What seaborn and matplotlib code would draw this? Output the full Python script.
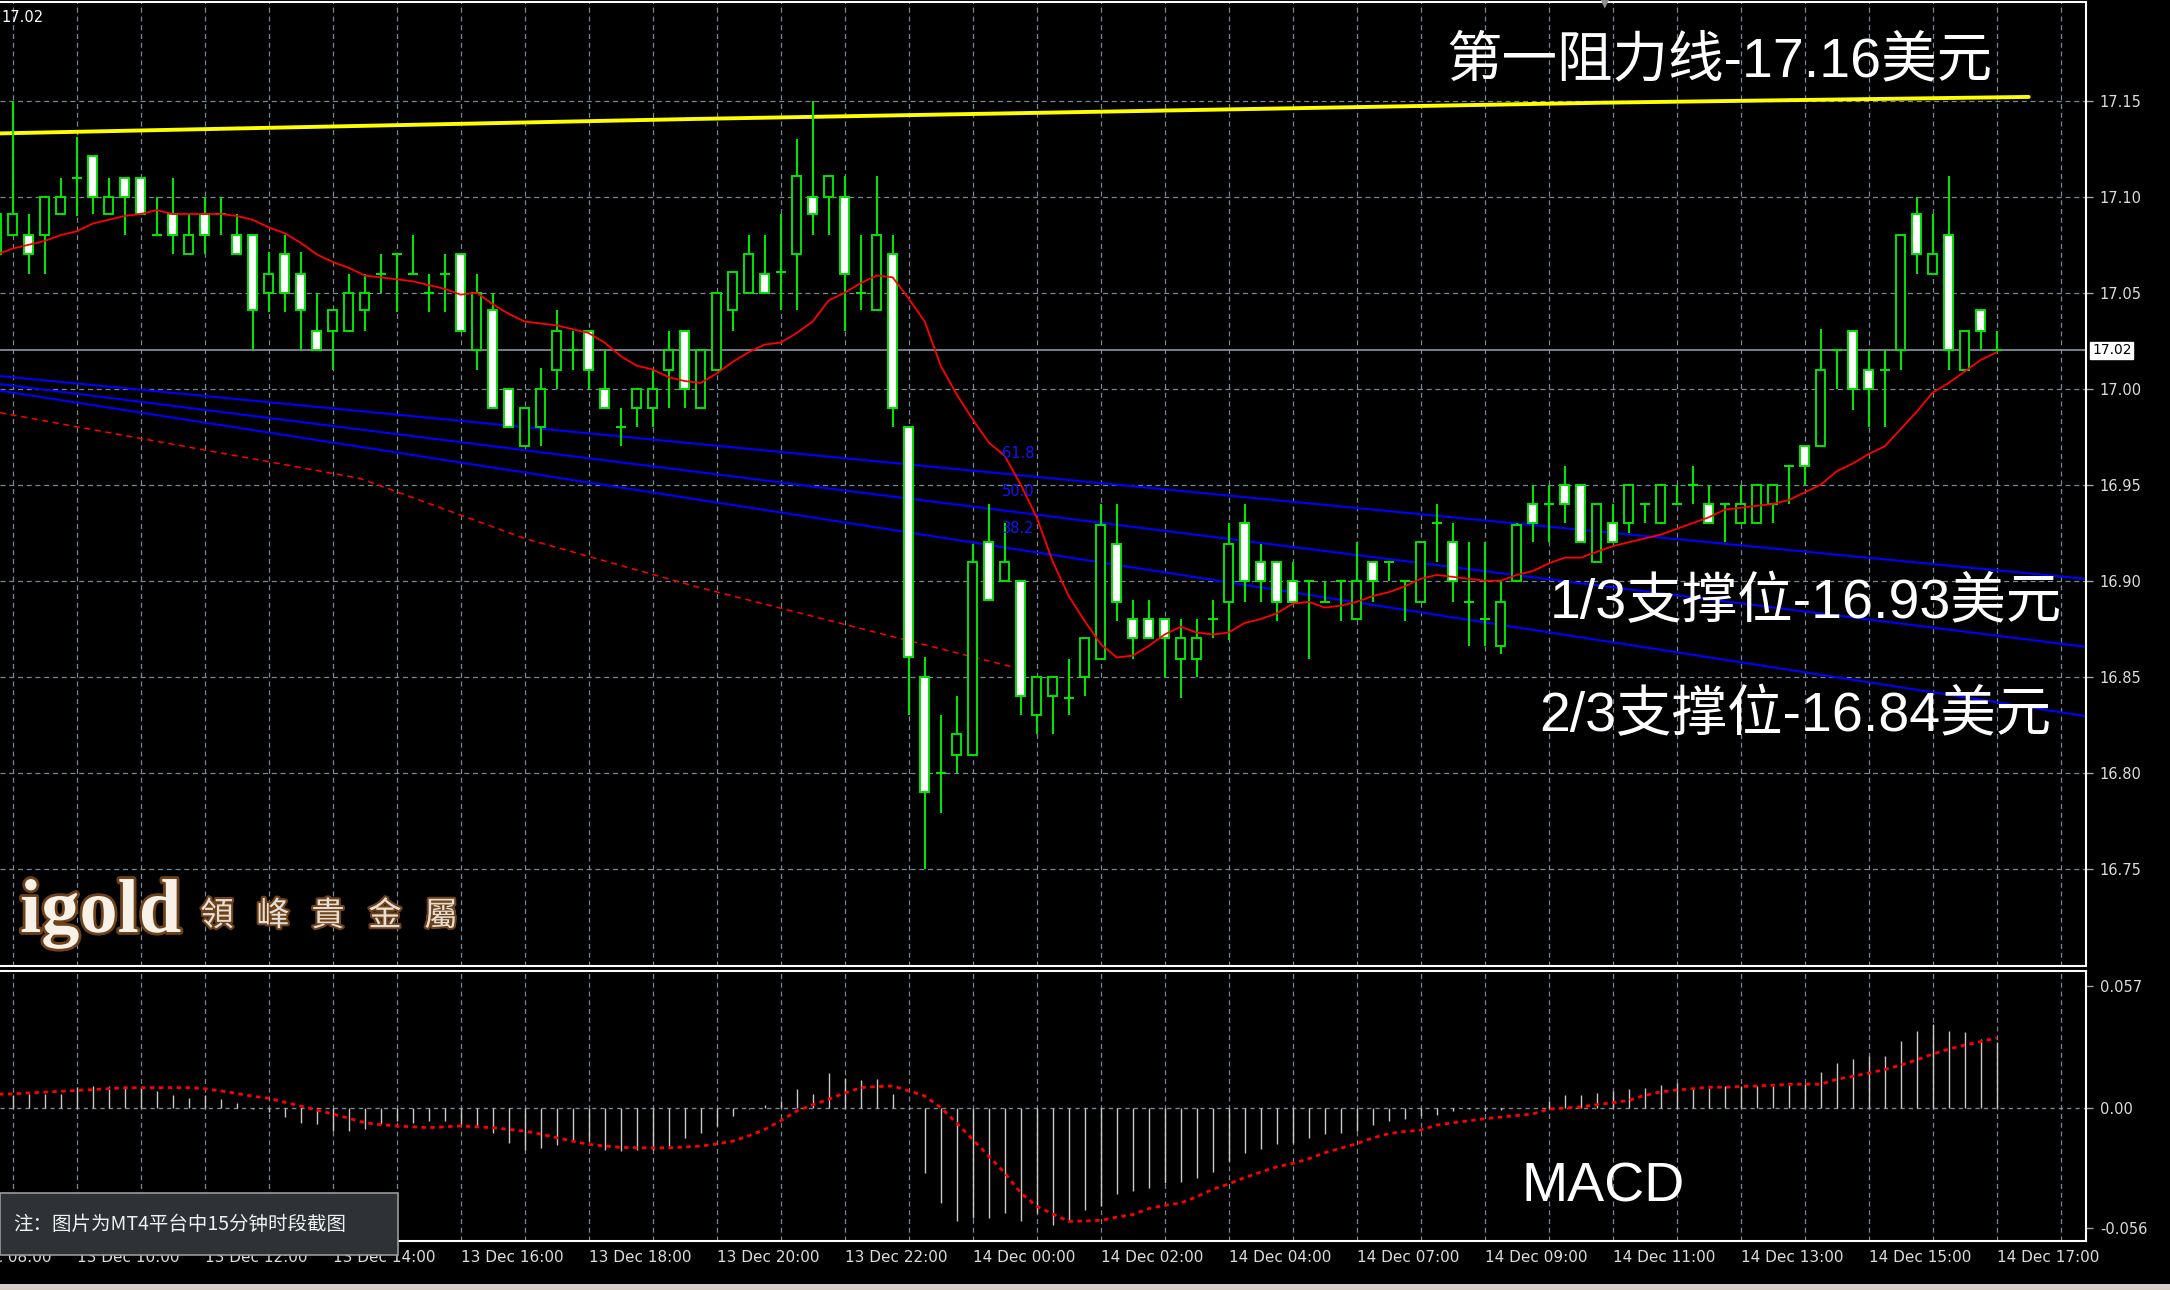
import matplotlib
matplotlib.use("Agg")
import matplotlib.pyplot as plt
import matplotlib.patheffects as pe
import matplotlib.transforms as mtransforms
from matplotlib.patches import Rectangle
import numpy as np
import pandas as pd
import seaborn as sns

# screenshot size in pixels
W, H = 2170, 1290

# 15 minute bars, index 0 = 13 Dec 09:00 (index -1 is cut at the left edge)
bar_index = list(range(-1, 125))

opens = [17.070, 17.080, 17.080, 17.080, 17.091, 17.110, 17.121, 17.091, 17.110, 17.110,
         17.080, 17.091, 17.070, 17.091, 17.091, 17.080, 17.080, 17.050, 17.070, 17.060,
         17.030, 17.030, 17.030, 17.041, 17.060, 17.070, 17.060, 17.050, 17.060, 17.070,
         17.020, 17.041, 17.000, 16.970, 16.980, 17.010, 17.020, 17.030, 17.000, 16.980,
         16.990, 16.990, 17.010, 17.030, 16.990, 17.010, 17.041, 17.050, 17.060, 17.061,
         17.070, 17.100, 17.100, 17.100, 17.050, 17.041, 17.070, 16.980, 16.850, 16.800,
         16.809, 16.809, 16.920, 16.900, 16.900, 16.830, 16.840, 16.839, 16.850, 16.859,
         16.919, 16.880, 16.880, 16.880, 16.859, 16.859, 16.880, 16.889, 16.930, 16.910,
         16.910, 16.900, 16.900, 16.889, 16.900, 16.880, 16.910, 16.910, 16.900, 16.889,
         16.930, 16.920, 16.889, 16.880, 16.866, 16.900, 16.940, 16.940, 16.950, 16.950,
         16.910, 16.930, 16.930, 16.940, 16.930, 16.940, 16.950, 16.940, 16.940, 16.930,
         16.930, 16.940, 16.960, 16.970, 16.970, 17.020, 17.030, 17.010, 17.010, 17.020,
         17.091, 17.060, 17.080, 17.010, 17.041, 17.020]

highs = [17.091, 17.150, 17.091, 17.100, 17.110, 17.131, 17.121, 17.110, 17.110, 17.110,
         17.100, 17.110, 17.091, 17.100, 17.100, 17.091, 17.080, 17.071, 17.080, 17.071,
         17.050, 17.041, 17.060, 17.060, 17.070, 17.070, 17.080, 17.060, 17.070, 17.070,
         17.060, 17.050, 17.000, 16.990, 17.011, 17.041, 17.030, 17.030, 17.020, 16.990,
         17.000, 17.010, 17.030, 17.030, 17.020, 17.050, 17.061, 17.080, 17.080, 17.091,
         17.130, 17.150, 17.111, 17.111, 17.080, 17.111, 17.080, 16.980, 16.860, 16.830,
         16.840, 16.919, 16.940, 16.930, 16.900, 16.850, 16.850, 16.859, 16.870, 16.940,
         16.940, 16.890, 16.890, 16.880, 16.880, 16.880, 16.890, 16.930, 16.940, 16.919,
         16.910, 16.910, 16.900, 16.900, 16.900, 16.920, 16.910, 16.910, 16.900, 16.920,
         16.940, 16.930, 16.920, 16.920, 16.900, 16.930, 16.950, 16.950, 16.960, 16.950,
         16.940, 16.940, 16.950, 16.940, 16.950, 16.950, 16.960, 16.950, 16.940, 16.950,
         16.950, 16.950, 16.960, 16.970, 17.031, 17.020, 17.030, 17.020, 17.020, 17.080,
         17.100, 17.091, 17.111, 17.030, 17.041, 17.030]

lows = [17.070, 17.080, 17.060, 17.060, 17.091, 17.090, 17.091, 17.091, 17.080, 17.091,
        17.080, 17.070, 17.070, 17.070, 17.080, 17.070, 17.020, 17.040, 17.040, 17.020,
        17.020, 17.010, 17.030, 17.030, 17.050, 17.040, 17.060, 17.040, 17.040, 17.030,
        17.010, 16.990, 16.980, 16.970, 16.970, 17.000, 17.010, 17.000, 16.990, 16.970,
        16.980, 16.980, 16.990, 16.990, 16.990, 17.010, 17.030, 17.050, 17.050, 17.041,
        17.041, 17.080, 17.080, 17.030, 17.041, 17.041, 16.980, 16.830, 16.750, 16.779,
        16.800, 16.809, 16.890, 16.900, 16.830, 16.820, 16.820, 16.830, 16.840, 16.859,
        16.879, 16.859, 16.870, 16.850, 16.839, 16.850, 16.870, 16.869, 16.889, 16.889,
        16.879, 16.889, 16.859, 16.889, 16.879, 16.880, 16.889, 16.900, 16.879, 16.889,
        16.910, 16.889, 16.866, 16.866, 16.862, 16.900, 16.920, 16.920, 16.930, 16.920,
        16.910, 16.920, 16.925, 16.930, 16.930, 16.940, 16.940, 16.930, 16.920, 16.930,
        16.930, 16.930, 16.940, 16.950, 16.970, 17.000, 16.989, 16.980, 16.980, 17.010,
        17.060, 17.060, 17.010, 17.010, 17.020, 17.020]

closes = [17.091, 17.091, 17.070, 17.100, 17.100, 17.110, 17.100, 17.100, 17.100, 17.091,
          17.080, 17.080, 17.080, 17.080, 17.091, 17.070, 17.041, 17.060, 17.050, 17.041,
          17.020, 17.041, 17.050, 17.050, 17.060, 17.070, 17.060, 17.050, 17.060, 17.030,
          17.050, 16.990, 16.980, 16.990, 17.000, 17.030, 17.020, 17.010, 16.990, 16.980,
          17.000, 17.000, 17.020, 17.000, 17.020, 17.050, 17.061, 17.070, 17.050, 17.061,
          17.111, 17.091, 17.111, 17.060, 17.050, 17.080, 16.990, 16.860, 16.790, 16.800,
          16.820, 16.910, 16.890, 16.910, 16.840, 16.850, 16.850, 16.839, 16.870, 16.929,
          16.889, 16.870, 16.870, 16.870, 16.870, 16.870, 16.880, 16.919, 16.900, 16.900,
          16.889, 16.889, 16.900, 16.889, 16.900, 16.900, 16.900, 16.910, 16.900, 16.920,
          16.930, 16.900, 16.889, 16.880, 16.889, 16.929, 16.930, 16.940, 16.940, 16.920,
          16.940, 16.920, 16.950, 16.940, 16.950, 16.940, 16.950, 16.930, 16.940, 16.940,
          16.950, 16.950, 16.960, 16.960, 17.010, 17.020, 17.000, 17.000, 17.010, 17.080,
          17.070, 17.070, 17.020, 17.030, 17.030, 17.020]

# red moving average
ma_line = [17.070, 17.073, 17.075, 17.077, 17.080, 17.082, 17.086, 17.088, 17.090, 17.091,
           17.093, 17.091, 17.091, 17.091, 17.091, 17.090, 17.088, 17.084, 17.081, 17.076,
           17.070, 17.066, 17.063, 17.059, 17.058, 17.057, 17.056, 17.054, 17.052, 17.049,
           17.050, 17.044, 17.039, 17.035, 17.034, 17.033, 17.031, 17.029, 17.024, 17.017,
           17.012, 17.010, 17.006, 17.004, 17.003, 17.008, 17.014, 17.019, 17.023, 17.024,
           17.029, 17.035, 17.046, 17.050, 17.055, 17.059, 17.058, 17.047, 17.035, 17.012,
           16.997, 16.984, 16.972, 16.965, 16.950, 16.933, 16.910, 16.892, 16.879, 16.867,
           16.860, 16.861, 16.866, 16.872, 16.876, 16.873, 16.872, 16.873, 16.878, 16.880,
           16.883, 16.888, 16.889, 16.886, 16.887, 16.889, 16.892, 16.894, 16.897, 16.901,
           16.903, 16.902, 16.901, 16.900, 16.900, 16.903, 16.905, 16.909, 16.912, 16.912,
           16.915, 16.918, 16.920, 16.922, 16.924, 16.927, 16.930, 16.933, 16.937, 16.938,
           16.939, 16.940, 16.942, 16.946, 16.950, 16.957, 16.961, 16.966, 16.970, 16.979,
           16.988, 16.998, 17.003, 17.009, 17.015, 17.019]

macd_hist = [0.0059, 0.0059, 0.0064, 0.0064, 0.0064, 0.0100, 0.0103, 0.0103, 0.0103, 0.0100,
             0.0080, 0.0059, 0.0048, 0.0060, 0.0041, 0.0022, -0.0006, -0.0019, -0.0041, -0.0072,
             -0.0077, -0.0108, -0.0108, -0.0100, -0.0077, -0.0061, -0.0069, -0.0061, -0.0061, -0.0077,
             -0.0084, -0.0116, -0.0163, -0.0194, -0.0186, -0.0175, -0.0155, -0.0155, -0.0194, -0.0202,
             -0.0194, -0.0194, -0.0178, -0.0139, -0.0116, -0.0084, -0.0037, -0.0003, 0.0013, 0.0033,
             0.0088, 0.0064, 0.0163, 0.0142, 0.0131, 0.0134, 0.0064, -0.0005, -0.0303, -0.0444,
             -0.0530, -0.0514, -0.0514, -0.0491, -0.0530, -0.0491, -0.0545, -0.0530, -0.0475, -0.0456,
             -0.0400, -0.0390, -0.0375, -0.0350, -0.0345, -0.0325, -0.0300, -0.0250, -0.0210, -0.0190,
             -0.0170, -0.0162, -0.0140, -0.0123, -0.0116, -0.0108, -0.0081, -0.0061, -0.0053, -0.0038,
             -0.0034, -0.0014, -0.0006, -0.0014, -0.0009, -0.0002, 0.0000, 0.0033, 0.0059, 0.0059,
             0.0072, 0.0080, 0.0087, 0.0095, 0.0106, 0.0116, 0.0095, 0.0095, 0.0103, 0.0103,
             0.0103, 0.0103, 0.0106, 0.0111, 0.0166, 0.0209, 0.0228, 0.0244, 0.0244, 0.0314,
             0.0361, 0.0392, 0.0361, 0.0353, 0.0322, 0.0306]

macd_signal = [0.0064, 0.0066, 0.0070, 0.0074, 0.0078, 0.0082, 0.0086, 0.0090, 0.0094, 0.0095,
               0.0095, 0.0095, 0.0095, 0.0090, 0.0080, 0.0068, 0.0055, 0.0045, 0.0027, 0.0009,
               -0.0010, -0.0028, -0.0048, -0.0069, -0.0078, -0.0084, -0.0088, -0.0092, -0.0088, -0.0084,
               -0.0088, -0.0092, -0.0100, -0.0108, -0.0122, -0.0139, -0.0155, -0.0170, -0.0178, -0.0184,
               -0.0186, -0.0186, -0.0186, -0.0182, -0.0178, -0.0168, -0.0155, -0.0130, -0.0100, -0.0060,
               -0.0014, 0.0015, 0.0041, 0.0070, 0.0095, 0.0100, 0.0103, 0.0080, 0.0056, 0.0002,
               -0.0070, -0.0147, -0.0225, -0.0303, -0.0397, -0.0459, -0.0495, -0.0530, -0.0528, -0.0525,
               -0.0510, -0.0498, -0.0470, -0.0455, -0.0444, -0.0415, -0.0380, -0.0355, -0.0325, -0.0300,
               -0.0275, -0.0259, -0.0237, -0.0209, -0.0188, -0.0167, -0.0140, -0.0120, -0.0110, -0.0103,
               -0.0080, -0.0069, -0.0060, -0.0050, -0.0043, -0.0035, -0.0028, -0.0006, 0.0000, 0.0005,
               0.0015, 0.0025, 0.0035, 0.0059, 0.0075, 0.0084, 0.0090, 0.0097, 0.0097, 0.0100,
               0.0103, 0.0106, 0.0110, 0.0111, 0.0111, 0.0134, 0.0148, 0.0163, 0.0180, 0.0200,
               0.0225, 0.0252, 0.0275, 0.0294, 0.0310, 0.0327]

# drawn lines: (bar index, price) end points
line_k = [-0.79, 129.6]
fan_618 = [17.0066, 16.9009]
fan_500 = [17.0024, 16.8655]
fan_382 = [16.9990, 16.8294]
resist_k = [-0.79, 42.5, 99.5, 126.0]
resist_price = [17.133, 17.1405, 17.149, 17.152]
trend_k = [-0.79, 21.7, 32.0, 42.8, 62.5]
trend_price = [16.9875, 16.9533, 16.922, 16.8967, 16.855]

price_ticks = [16.75, 16.80, 16.85, 16.90, 16.95, 17.00, 17.05, 17.10, 17.15]
last_price = 17.02
macd_ticks = [0.057, 0.0, -0.056]
macd_tick_labels = ["0.057", "0.00", "-0.056"]
time_k = [-4, 4, 12, 20, 28, 36, 44, 52, 60, 68, 76, 84, 92, 100, 108, 116, 124]
time_labels = ["13 Dec 08:00", "13 Dec 10:00", "13 Dec 12:00", "13 Dec 14:00", "13 Dec 16:00",
               "13 Dec 18:00", "13 Dec 20:00", "13 Dec 22:00", "14 Dec 00:00", "14 Dec 02:00",
               "14 Dec 04:00", "14 Dec 07:00", "14 Dec 09:00", "14 Dec 11:00", "14 Dec 13:00",
               "14 Dec 15:00", "14 Dec 17:00"]
grid_k = list(range(0, 132, 4))

sns.set_theme(style="dark")
plt.rcParams["font.family"] = ["DejaVu Sans", "Noto Sans CJK SC"]

GREEN = "#00e400"
GRID = "#778899"
FG = "#dcdcdc"


def fx(px):
    return px / W


def fy(py):
    return 1 - py / H


df = pd.DataFrame({"k": bar_index, "o": opens, "h": highs, "l": lows, "c": closes,
                   "ma": ma_line, "hist": macd_hist, "sig": macd_signal})

fig = plt.figure(figsize=(W / 100, H / 100), dpi=100, facecolor="black")
ax = fig.add_axes([0, fy(966), fx(2086), (966 - 1.5) / H])
ax2 = fig.add_axes([0, fy(1241), fx(2086), (1241 - 971) / H])

for a in (ax, ax2):
    a.set_facecolor("black")
    a.grid(False)
    for side in ("top", "right", "bottom"):
        a.spines[side].set_visible(True)
        a.spines[side].set_color("white")
        a.spines[side].set_linewidth(1.5)
    a.spines["left"].set_visible(False)

# ---- main price panel ----
ax.vlines(df["k"], df["l"], df["h"], color=GREEN, lw=1.5, zorder=3)
up = df["c"] >= df["o"]
body = (df["c"] - df["o"]).abs()
solid = body >= 0.0015
ax.bar(df["k"][solid], body[solid], bottom=np.minimum(df["o"], df["c"])[solid], width=0.55,
       color=np.where(up[solid], "black", "white"), edgecolor=GREEN, linewidth=1.4, zorder=4)
doji = ~solid
ax.hlines(df["c"][doji], df["k"][doji] - 0.3, df["k"][doji] + 0.3, color=GREEN, lw=1.5, zorder=4)

sns.lineplot(x=df["k"], y=df["ma"], ax=ax, color="red", lw=1.3, errorbar=None, zorder=5)
for fan in (fan_618, fan_500, fan_382):
    sns.lineplot(x=line_k, y=fan, ax=ax, color="#0000ff", lw=1.5, errorbar=None, zorder=2)
sns.lineplot(x=resist_k, y=resist_price, ax=ax, color="#ffff00", lw=2.8, errorbar=None, zorder=2)
sns.lineplot(x=trend_k, y=trend_price, ax=ax, color="red", lw=1.1, errorbar=None,
             linestyle=(0, (4, 3)), zorder=2)

fib_pos = [(61.8, 16.966, "61.8"), (61.8, 16.9467, "50.0"), (61.8, 16.927, "38.2")]
for kx, py, lab in fib_pos:
    ax.text(kx, py, lab, color="#1414ff", fontsize=10.5, ha="left", va="center", zorder=6)

ax.axhline(last_price, color="#8a97a5", lw=1.2, zorder=1)

ax.set_xlim(-0.794, 129.58)
ax.set_ylim(16.6993, 17.2017)
ax.set_xticks(grid_k)
ax.set_yticks(price_ticks)
ax.set_yticklabels([f"{p:.2f}" for p in price_ticks])
ax.yaxis.tick_right()
ax.tick_params(axis="x", length=0, labelbottom=False)
ax.tick_params(axis="y", length=5, width=1, color="#a0a0a0", labelcolor=FG, labelsize=10.5,
               pad=5, right=True, left=False, labelright=True, labelleft=False)
ax.grid(True, axis="both", color=GRID, linestyle=(0, (4, 3)), linewidth=0.9)
ax.set_axisbelow(True)
ax.set_xlabel("")
ax.set_ylabel("")

ytrans = mtransforms.blended_transform_factory(ax.transAxes, ax.transData)
ax.text(1.0029, last_price, f"{last_price:.2f}", transform=ytrans, color="black", fontsize=10,
        ha="left", va="center", clip_on=False,
        bbox=dict(boxstyle="square,pad=0.12", facecolor="white", edgecolor="white"))

# ---- MACD panel ----
ax2.vlines(df["k"], 0, df["hist"], color="#c8c8c8", lw=1.0, zorder=3)
sns.lineplot(x=df["k"], y=df["sig"], ax=ax2, color="red", lw=2.0, errorbar=None,
             linestyle=(0, (1.6, 1.6)), zorder=4)
ax2.axhline(0, color=GRID, lw=1.0, linestyle=(0, (3, 3)), zorder=1)
ax2.set_xlim(-0.794, 129.58)
ax2.set_ylim(-0.06215, 0.0640)
ax2.set_xticks(grid_k)
ax2.set_xticks([k for k in time_k if k >= 0], minor=True)
ax2.tick_params(axis="x", which="major", length=0, labelbottom=False)
ax2.tick_params(axis="x", which="minor", length=7, width=1.2, color="white", direction="out", bottom=True)
ax2.grid(True, axis="x", which="major", color=GRID, linestyle=(0, (4, 3)), linewidth=0.9)
ax2.set_axisbelow(True)
ax2.set_yticks(macd_ticks)
ax2.set_yticklabels(macd_tick_labels)
ax2.yaxis.tick_right()
ax2.tick_params(axis="y", length=5, width=1, color="#a0a0a0", labelcolor=FG, labelsize=10.5,
                pad=5, right=True, left=False, labelright=True, labelleft=False)
ax2.set_xlabel("")
ax2.set_ylabel("")

ttrans = mtransforms.blended_transform_factory(ax2.transData, fig.transFigure)
for kx, lab in zip(time_k, time_labels):
    ax2.text(kx, fy(1250), lab, transform=ttrans, color=FG, fontsize=11, ha="left", va="top",
             clip_on=False)

# ---- annotations ----
big = dict(color="white", fontsize=40, ha="left", va="center",
           family=["Liberation Sans", "Noto Sans CJK SC"])
fig.text(fx(1446), fy(62), "第一阻力线-17.16美元", **big)
fig.text(fx(1550), fy(604), "1/3支撑位-16.93美元", **big)
fig.text(fx(1539), fy(717), "2/3支撑位-16.84美元", **big)
fig.text(fx(1522), fy(1187), "MACD", **big)

fig.text(fx(1), fy(17), "17.02", color="white", fontsize=10.5, ha="left", va="center")
fig.text(fx(1605), fy(3), "▼", color="#909090", fontsize=9, ha="center", va="center")

# watermark
glow = [pe.withStroke(linewidth=4, foreground="#6e4219")]
fig.text(fx(20), fy(932), "igold", color="#f7f1e8", fontsize=55, fontweight="bold",
         family="Liberation Serif", ha="left", va="baseline", path_effects=glow)
for cx, ch in zip([217, 273, 328, 385, 441], "領峰貴金屬"):
    fig.text(fx(cx), fy(916), ch, color="#e6ded6", fontsize=24, family="Noto Sans CJK TC",
             ha="center", va="center", path_effects=[pe.withStroke(linewidth=3, foreground="#6e4219")])

# note box
fig.patches.append(Rectangle((0, fy(1255)), fx(398), (1255 - 1193) / H, transform=fig.transFigure,
                             facecolor="#2e3237", edgecolor="#9a9a9a", lw=1.2, zorder=5))
fig.text(fx(13), fy(1224), "注：图片为MT4平台中15分钟时段截图", color="#f0f0f0", fontsize=14,
         family=["Noto Sans CJK SC"], ha="left", va="center", zorder=6)

# bottom tab strip
fig.patches.append(Rectangle((0, 0), 1, 6 / H, transform=fig.transFigure,
                             facecolor="#d4d0c8", edgecolor="none", zorder=5))

fig.savefig("out.png", dpi=100, facecolor="black")
